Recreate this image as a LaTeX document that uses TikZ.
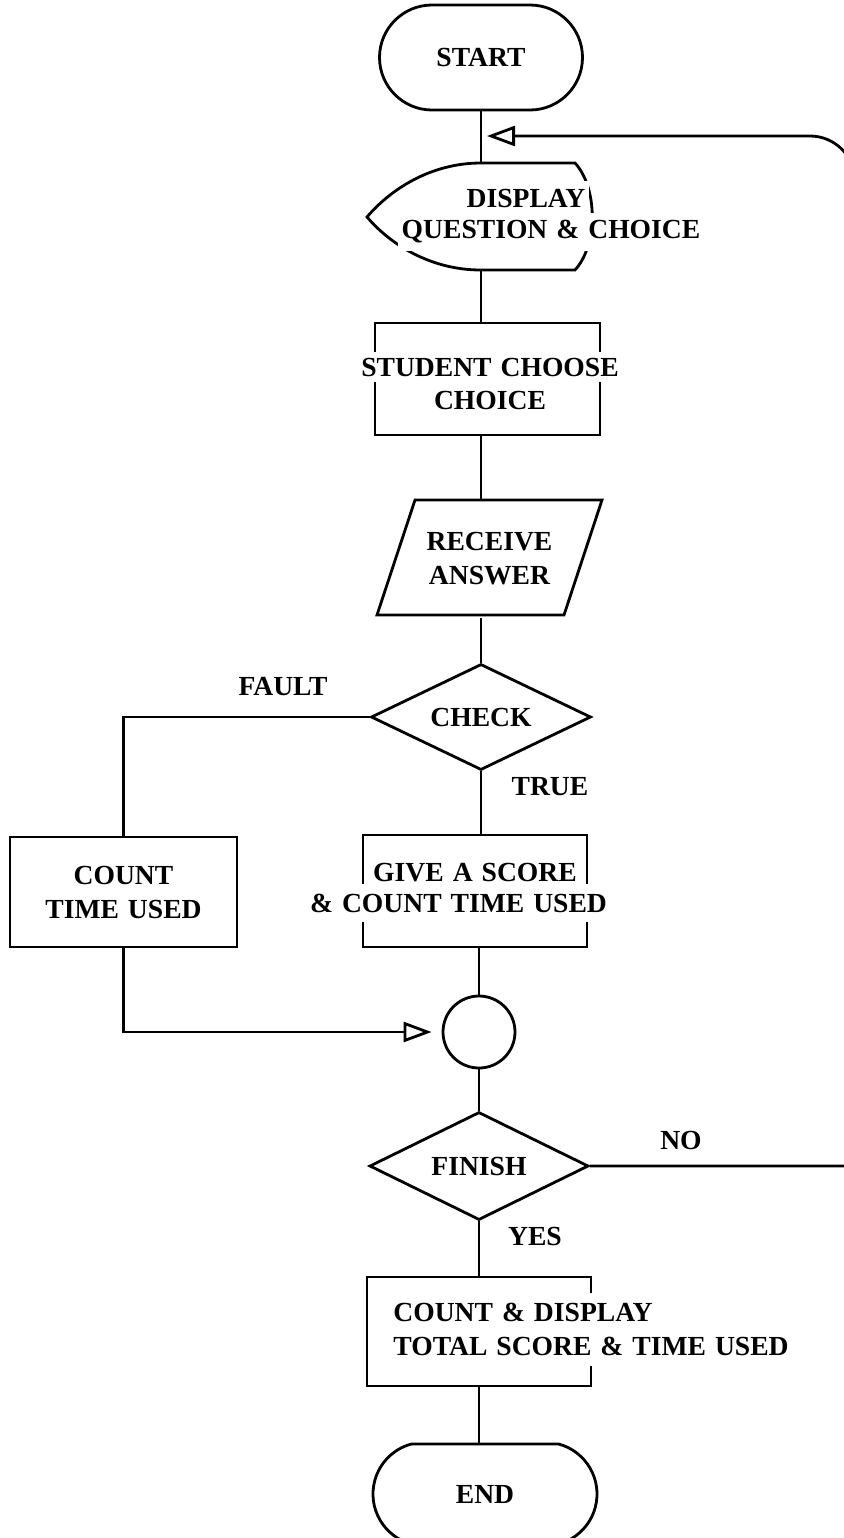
\documentclass[tikz,border=0pt]{standalone}
\usepackage{fontspec}
\setmainfont{Liberation Serif}[WordSpace=1.3]
\usetikzlibrary{shapes.geometric,shapes.misc,arrows.meta}
\begin{document}
\begin{tikzpicture}[x=0.5pt,y=-0.5pt, line width=1.4pt,
  every node/.style={font=\fontsize{13.8pt}{17pt}\selectfont\bfseries},
  procbox/.style={draw, rectangle, inner sep=0pt},
  decision/.style={draw, diamond, inner sep=0pt, aspect=2},
  mask/.style={fill=white, inner xsep=2pt, inner ysep=4pt},
  openarrow/.style={-{Triangle[open, length=14pt, width=10pt]}}]
\useasboundingbox (0,0) rectangle (844,1538);
\clip (0,0) rectangle (844,1538);

% START
\node[draw, rounded rectangle, minimum width=101.5pt, minimum height=52.5pt, inner sep=0pt] (start) at (481,57.5) {START};

% DISPLAY
\node[minimum width=100pt, minimum height=53.5pt, inner sep=0pt] (disp) at (481,216.5) {};
\draw (575,163) -- (481,163) .. controls (430,163) and (390,190) .. (367,217)
      .. controls (390,244) and (430,270) .. (481,270) -- (575,270)
      .. controls (598,245) and (598,188) .. (575,163) -- cycle;
\node[mask] (dispA) at (526,198) {DISPLAY};
\node[mask] (dispB) at (551,232) {QUESTION \& CHOICE};

% STUDENT CHOOSE CHOICE
\node[procbox, minimum width=112.5pt, minimum height=56pt] (stud) at (487.5,379) {};
\node[mask, inner ysep=3pt] (studA) at (490,367) {STUDENT CHOOSE};
\node (studB) at (490,400) {CHOICE};

% RECEIVE ANSWER
\node[minimum width=93.5pt, minimum height=57.5pt, inner sep=0pt, align=center] (recv) at (489.5,559) {RECEIVE\\ANSWER};
\draw (415,500) -- (602,500) -- (564,615) -- (377,615) -- cycle;

% CHECK
\node[decision, minimum width=110pt, minimum height=53pt] (check) at (481,717) {CHECK};

% COUNT TIME USED
\node[procbox, minimum width=113.5pt, minimum height=55pt, align=center] (count) at (123.5,892) {COUNT\\TIME USED};

% GIVE A SCORE
\node[procbox, minimum width=112pt, minimum height=56pt] (give) at (475,891) {};
\node (giveA) at (475,873) {GIVE A SCORE};
\node[mask, inner ysep=5pt] (giveB) at (458.5,903) {\& COUNT TIME USED};

% connector circle
\node[draw, circle, minimum size=36pt, inner sep=0pt] (circ) at (479,1032) {};

% FINISH
\node[decision, minimum width=109.5pt, minimum height=54pt] (finish) at (479,1166) {FINISH};

% COUNT & DISPLAY
\node[procbox, minimum width=112pt, minimum height=54.5pt] (final) at (479,1331.5) {};
\node[mask, align=left, anchor=west, inner xsep=3pt, inner ysep=5pt] (finalT) at (386,1329.5) {COUNT \& DISPLAY\\TOTAL SCORE \& TIME USED};

% END
\node[draw, rounded rectangle, rounded rectangle arc length=150, minimum width=112pt, minimum height=50pt, inner sep=0pt] (end) at (485,1494) {END};

% labels
\node (fault) at (283,687) {FAULT};
\node (true) at (550,787) {TRUE};
\node (yes) at (535,1236) {YES};
\node (no) at (681,1140) {NO};

% connectors
\draw (start.south) -- (disp.north);
\draw (disp.south) -- (disp.south |- stud.north);
\draw (disp.south |- stud.south) -- (disp.south |- recv.north);
\draw (disp.south |- recv.south) -- (check.north);
\draw (check.west) -| (count.north);
\draw (check.south) -- (check.south |- give.north);
\draw (circ.north |- give.south) -- (circ.north);
\draw[openarrow, shorten >=5pt] (count.south) |- (circ.west);
\draw (circ.south) -- (finish.north);
\draw (finish.south) -- (finish.south |- final.north);
\draw (finish.south |- final.south) -- (finish.south |- end.north);
\coordinate (loopB) at (855,1166);
\coordinate (loopC) at (855,181);
\coordinate (tip) at (487,136);
\draw[openarrow] (finish.east) -- (loopB) -- (loopC)
      arc[start angle=0, end angle=90, radius=22.5pt] -- (tip);
\end{tikzpicture}
\end{document}
